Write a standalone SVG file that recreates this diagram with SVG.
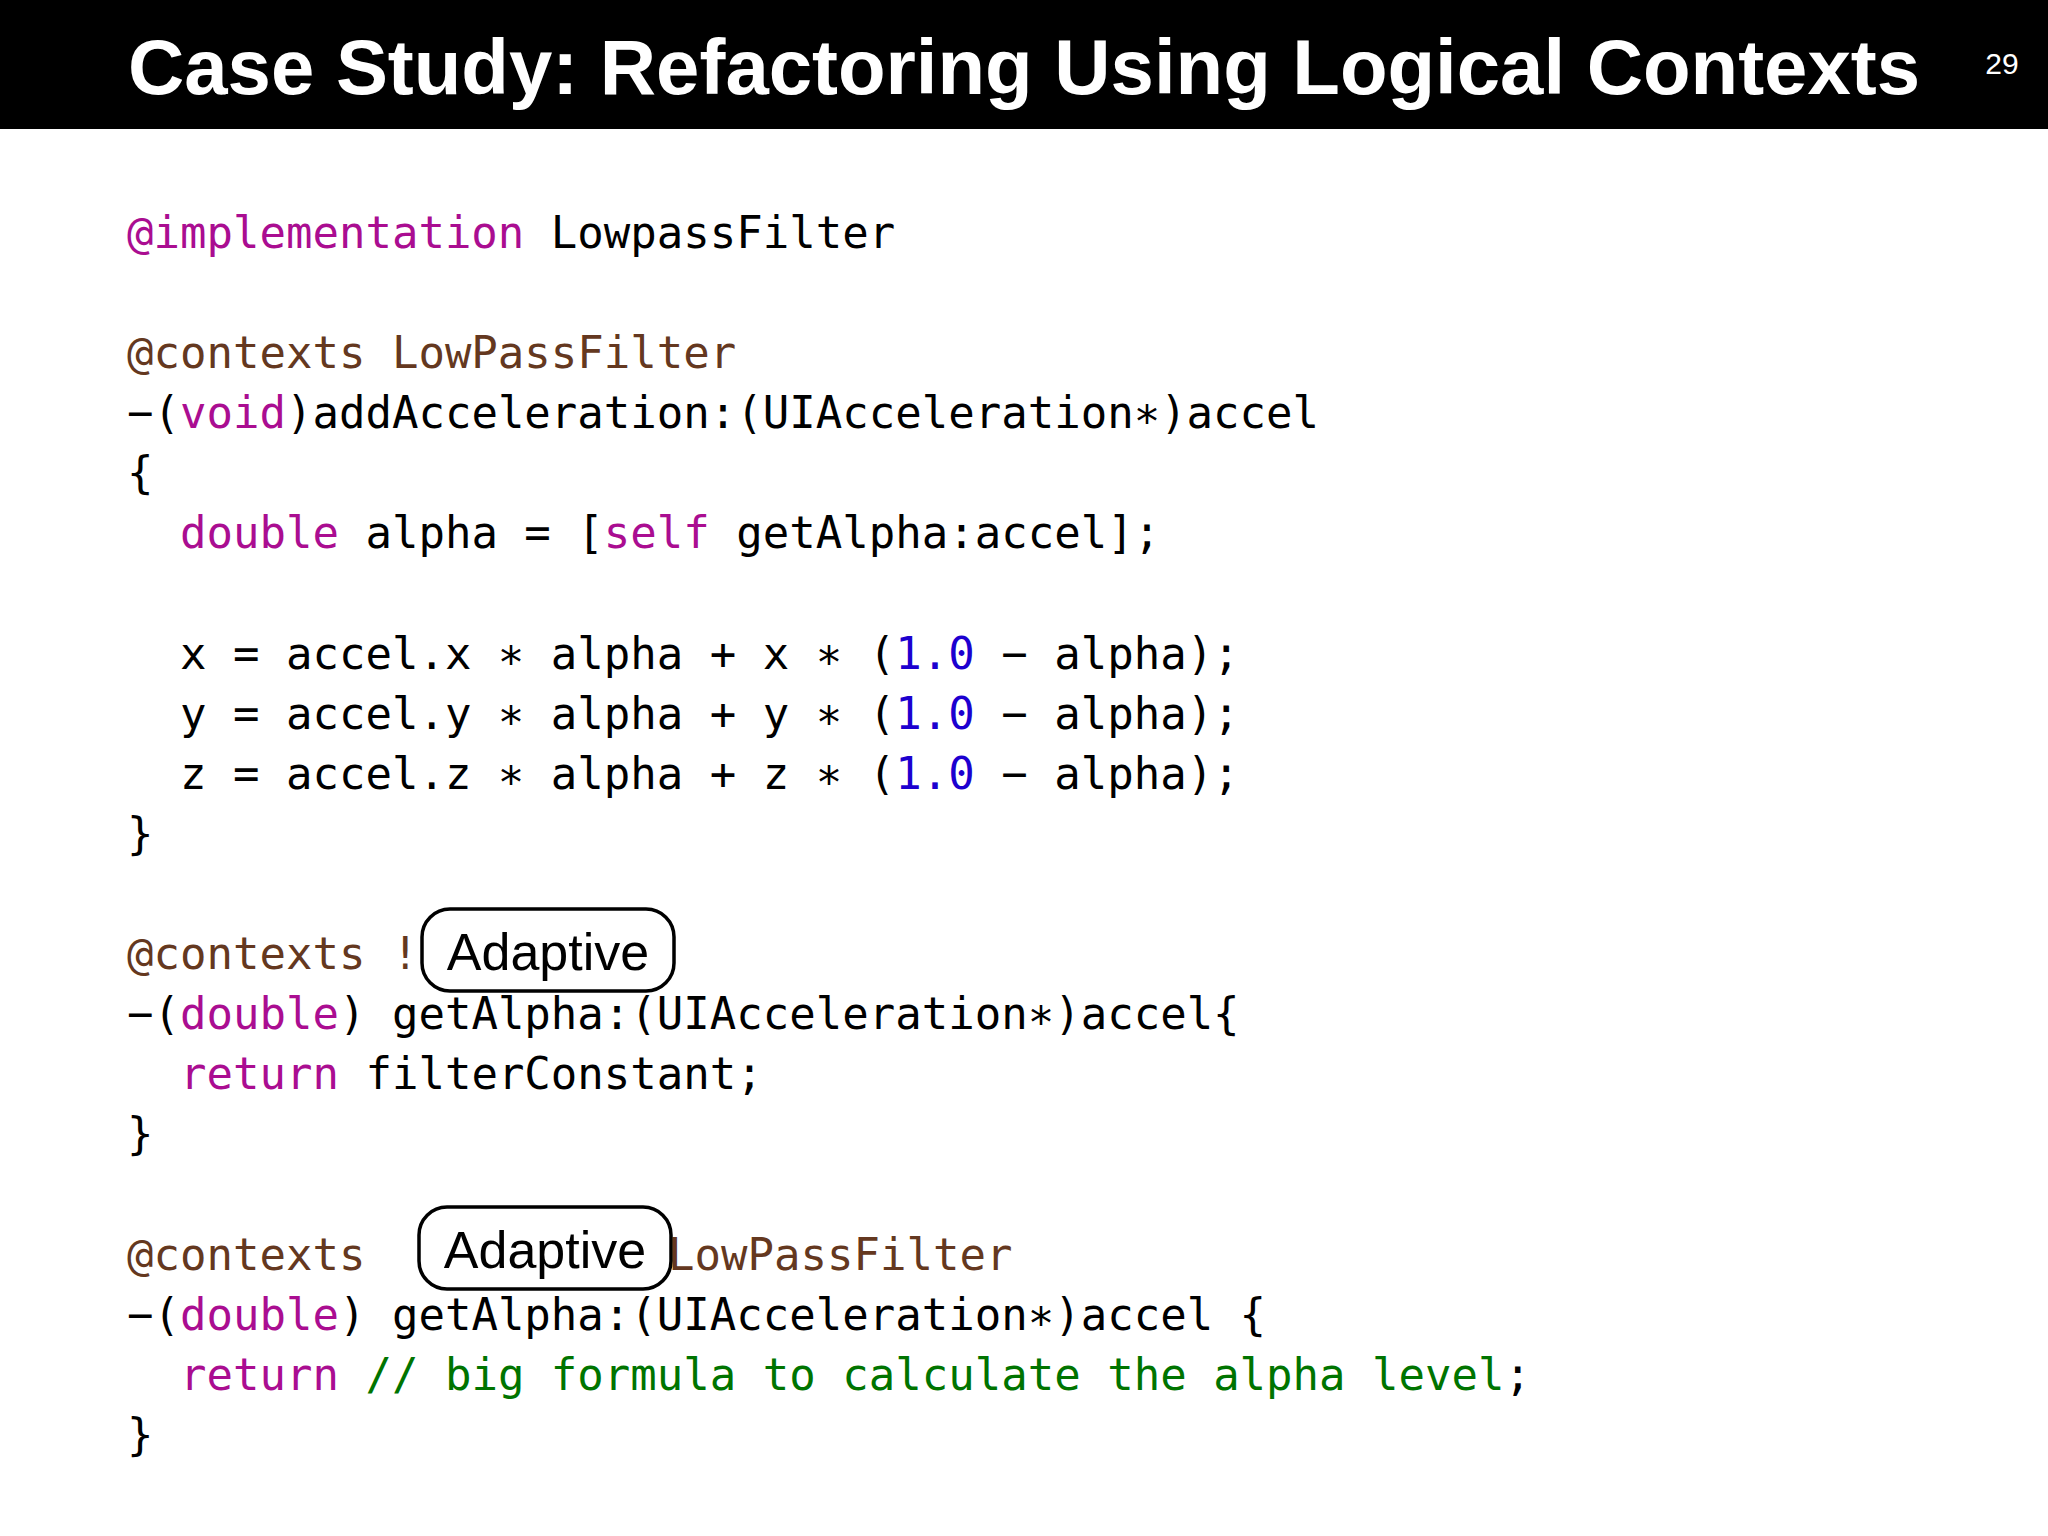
<svg xmlns="http://www.w3.org/2000/svg" width="2048" height="1536" viewBox="0 0 2048 1536">
<style>
.c{font-family:"DejaVu Sans Mono","Liberation Mono",monospace;font-size:44px;fill:#000;white-space:pre}
.k{fill:#AA0D91}.b{fill:#643820}.n{fill:#1C00CF}.g{fill:#007400}
.box{fill:#fff;stroke:#000;stroke-width:3.5}
.lab{font-family:"Liberation Sans",Arial,sans-serif;font-size:52px;fill:#000}
</style>
<rect width="2048" height="1536" fill="#fff"/>
<rect width="2048" height="129" fill="#000"/>
<text x="128" y="94" font-family="Liberation Sans,Arial,sans-serif" font-weight="bold" font-size="78" fill="#fff" textLength="1792" lengthAdjust="spacingAndGlyphs">Case Study: Refactoring Using Logical Contexts</text>
<text x="2002" y="74" text-anchor="middle" font-family="Liberation Sans,Arial,sans-serif" font-size="30" fill="#fff">29</text>
<g id="code" xml:space="preserve">
<text class="c" x="127" y="248"><tspan class="k">@implementation</tspan> LowpassFilter</text>
<text class="c" x="127" y="368"><tspan class="b">@contexts LowPassFilter</tspan></text>
<text class="c" x="127" y="428">−(<tspan class="k">void</tspan>)addAcceleration:(UIAcceleration∗)accel</text>
<text class="c" x="127" y="488">{</text>
<text class="c" x="127" y="548">  <tspan class="k">double</tspan> alpha = [<tspan class="k">self</tspan> getAlpha:accel];</text>
<text class="c" x="127" y="669">  x = accel.x ∗ alpha + x ∗ (<tspan class="n">1.0</tspan> − alpha);</text>
<text class="c" x="127" y="729">  y = accel.y ∗ alpha + y ∗ (<tspan class="n">1.0</tspan> − alpha);</text>
<text class="c" x="127" y="789">  z = accel.z ∗ alpha + z ∗ (<tspan class="n">1.0</tspan> − alpha);</text>
<text class="c" x="127" y="849">}</text>
<text class="c" x="127" y="969"><tspan class="b">@contexts !</tspan></text>
<text class="c" x="127" y="1029">−(<tspan class="k">double</tspan>) getAlpha:(UIAcceleration∗)accel{</text>
<text class="c" x="127" y="1089">  <tspan class="k">return</tspan> filterConstant;</text>
<text class="c" x="127" y="1149">}</text>
<text class="c" x="127" y="1270"><tspan class="b">@contexts</tspan></text>
<text class="c b" x="668" y="1270">LowPassFilter</text>
<text class="c" x="127" y="1330">−(<tspan class="k">double</tspan>) getAlpha:(UIAcceleration∗)accel {</text>
<text class="c" x="127" y="1390">  <tspan class="k">return</tspan> <tspan class="g">// big formula to calculate the alpha level</tspan>;</text>
<text class="c" x="127" y="1450">}</text>
</g>
<g id="adaptive1">
<rect class="box" x="422" y="909" width="252" height="82" rx="28"/>
<text class="lab" x="548" y="970" text-anchor="middle">Adaptive</text>
</g>
<g id="adaptive2">
<rect class="box" x="419" y="1207" width="252" height="82" rx="28"/>
<text class="lab" x="545" y="1268" text-anchor="middle">Adaptive</text>
</g>
</svg>
